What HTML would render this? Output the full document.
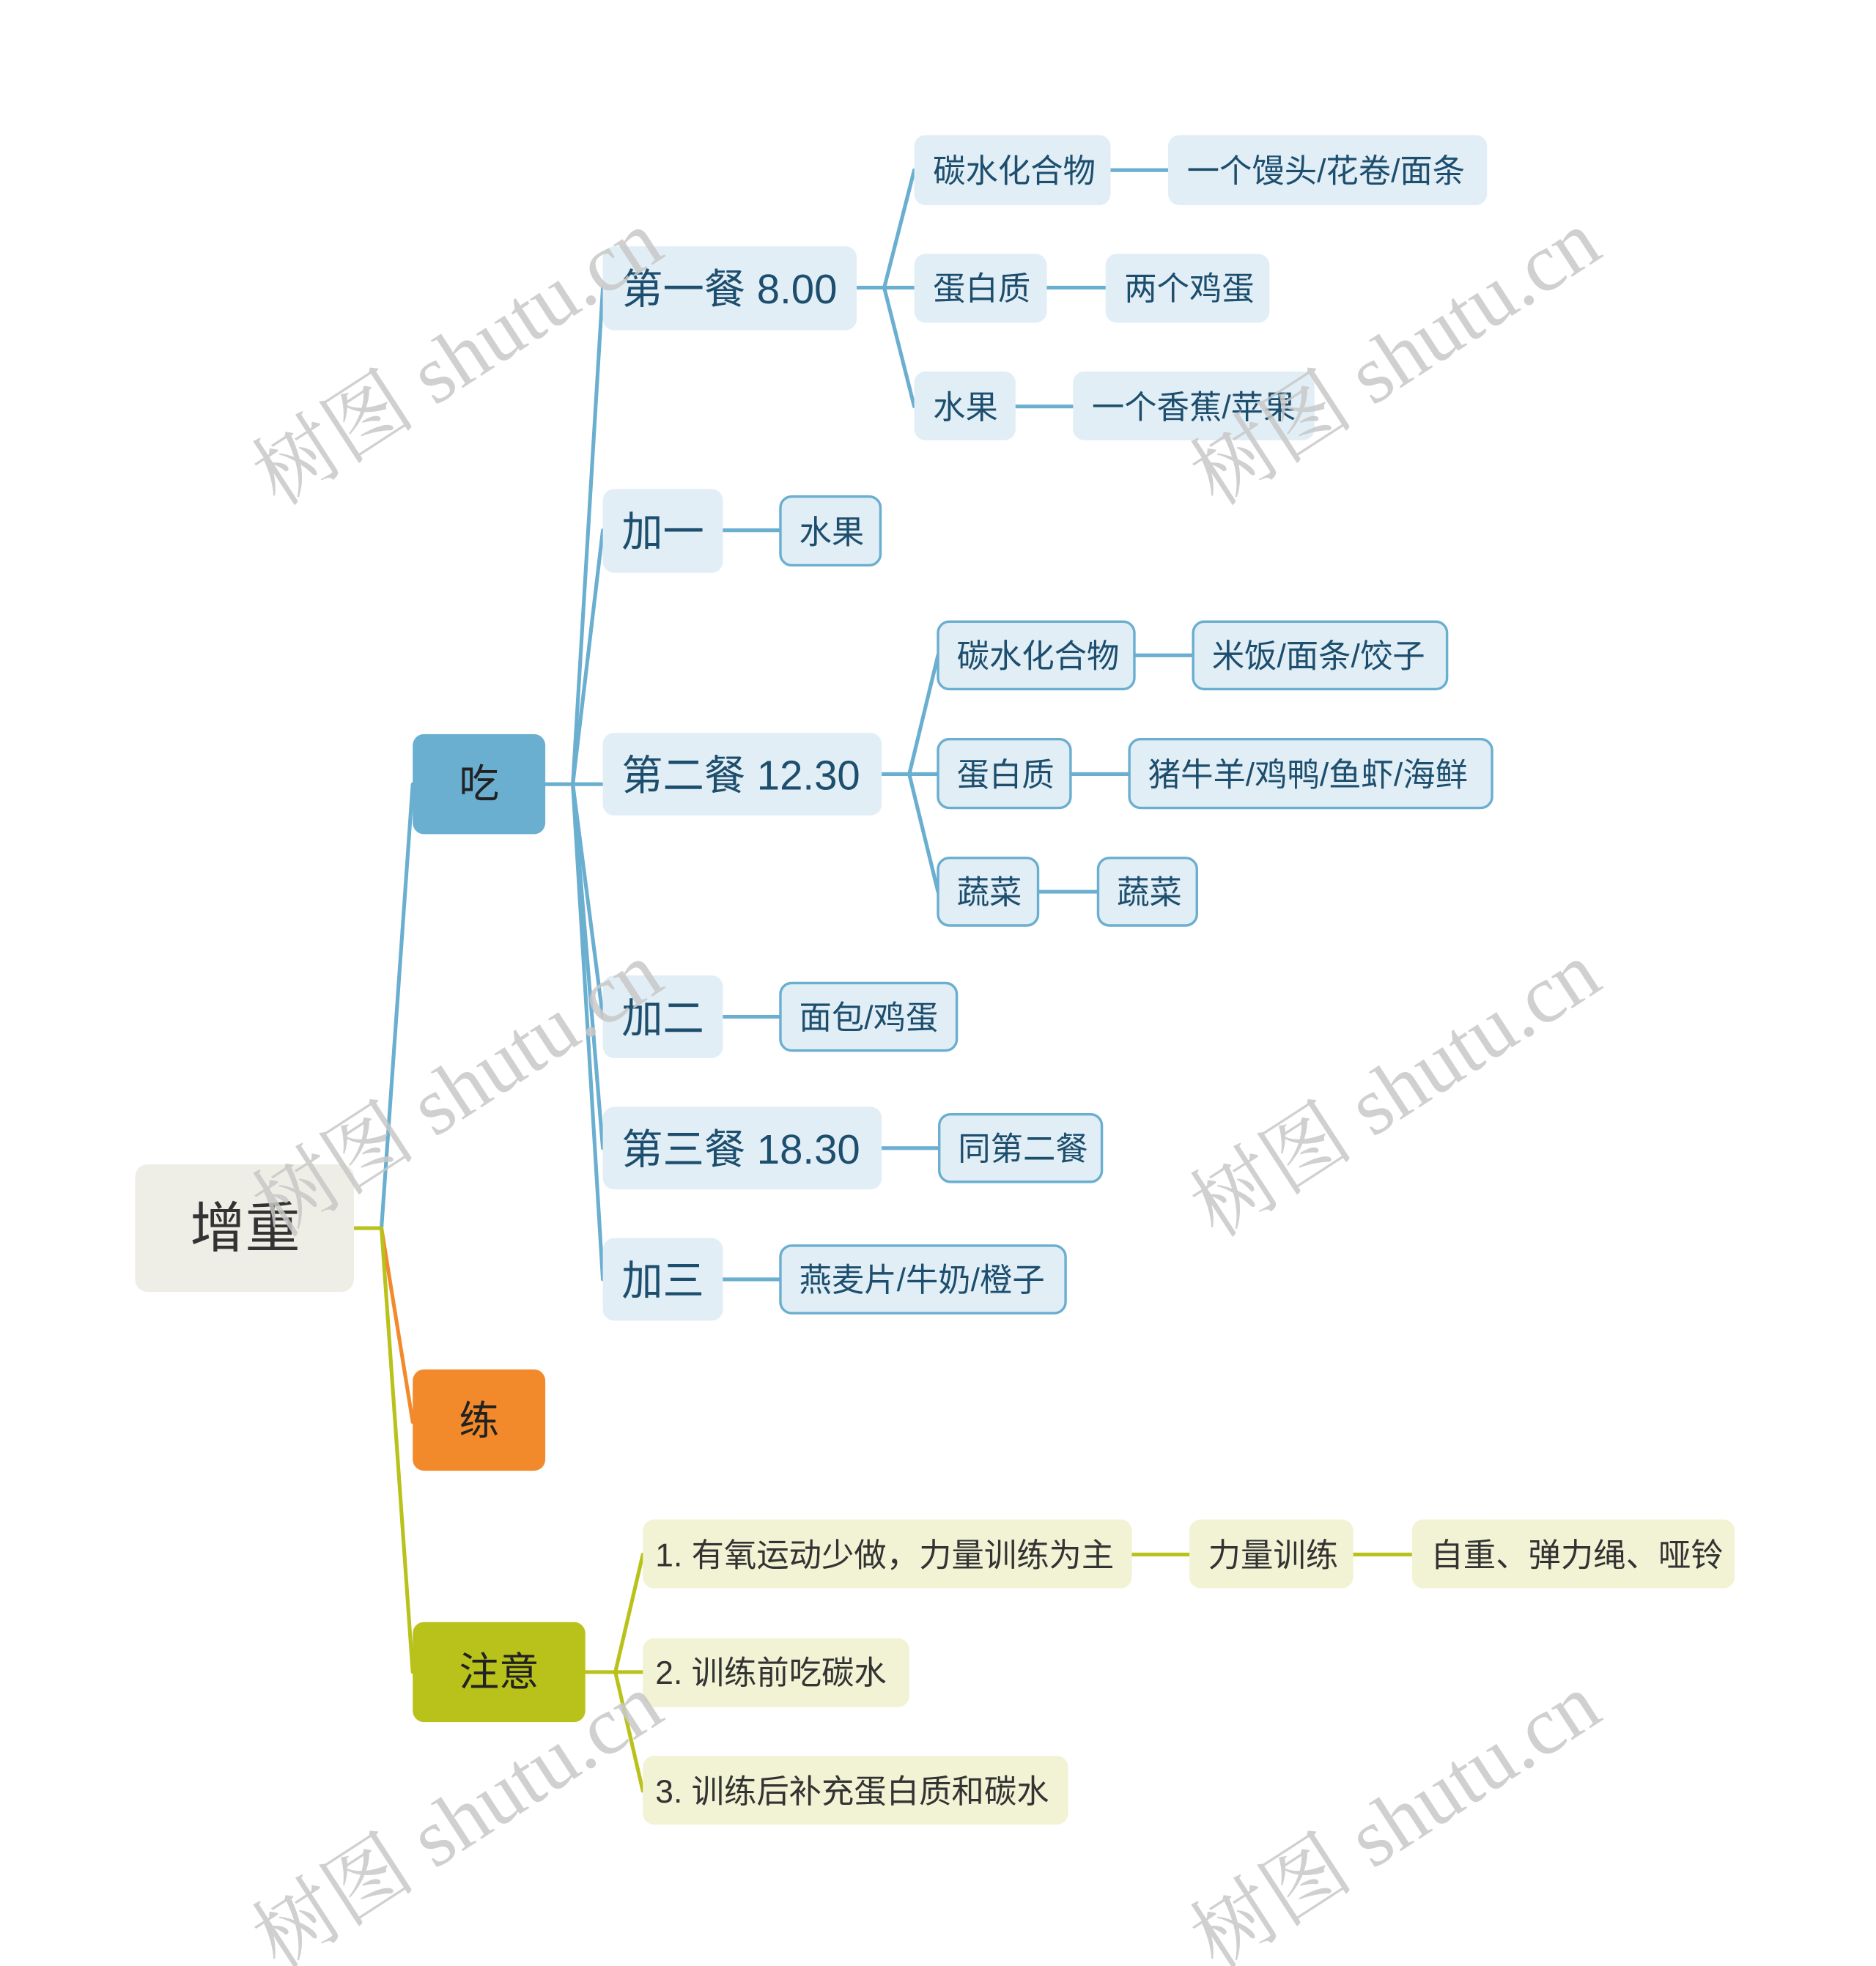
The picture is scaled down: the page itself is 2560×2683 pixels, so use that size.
<!DOCTYPE html>
<html><head><meta charset="utf-8"><style>
html,body{margin:0;padding:0;background:#fff}
svg{display:block}
text{font-family:"Liberation Sans","Noto Sans CJK SC",sans-serif}
.wm text{font-family:"Liberation Serif","Noto Serif CJK SC",serif;font-size:66px;fill:#c8c8c8;opacity:.85}
</style></head><body>
<svg width="2560" height="2683" viewBox="0 0 1500 1572" xmlns="http://www.w3.org/2000/svg">
<g fill="none" stroke-width="3" stroke-linecap="round">
<path d="M283 982 H305" stroke="#b9c21a"/>
<path d="M305 982 L330 627" stroke="#6aaed0"/>
<path d="M305 982 L330 1137" stroke="#f28a2c"/>
<path d="M305 982 L330 1337" stroke="#b9c21a"/>
<g stroke="#6aaed0">
<path d="M436 627 H458"/>
<path d="M458 627 L482 230"/><path d="M458 627 L482 424"/><path d="M458 627 H482"/>
<path d="M458 627 L482 813"/><path d="M458 627 L482 918"/><path d="M458 627 L482 1023"/>
<path d="M685 230 H707"/><path d="M707 230 L731 136"/><path d="M707 230 H731"/><path d="M707 230 L731 325"/>
<path d="M888 136 H934"/><path d="M837 230 H884"/><path d="M812 325 H858"/>
<path d="M578 424 H624"/>
<path d="M705 619 H727"/><path d="M727 619 L750 524"/><path d="M727 619 H750"/><path d="M727 619 L750 713"/>
<path d="M907 524 H954"/><path d="M856 619 H903"/><path d="M830 713 H878"/>
<path d="M578 813 H624"/><path d="M705 918 H751"/><path d="M578 1023 H624"/>
</g>
<g stroke="#b9c21a">
<path d="M468 1337 H492"/><path d="M492 1337 L514 1243"/><path d="M492 1337 H514"/><path d="M492 1337 L514 1432"/>
<path d="M905 1243 H951"/><path d="M1082 1243 H1129"/>
</g>
</g>
<rect x="108" y="931" width="175" height="102" rx="10" fill="#efeee6"/>
<text x="196" y="982" font-size="44" fill="#333" text-anchor="middle" dominant-baseline="central">增重</text>
<rect x="330" y="587" width="106" height="80" rx="9" fill="#6aaed0"/>
<text x="383" y="627" font-size="32" fill="#222" text-anchor="middle" dominant-baseline="central">吃</text>
<rect x="330" y="1095" width="106" height="81" rx="9" fill="#f28a2c"/>
<text x="383" y="1136" font-size="32" fill="#222" text-anchor="middle" dominant-baseline="central">练</text>
<rect x="330" y="1297" width="138" height="80" rx="9" fill="#b9c21a"/>
<text x="399" y="1337" font-size="32" fill="#222" text-anchor="middle" dominant-baseline="central">注意</text>
<g fill="#e1eef6">
<rect x="482" y="197" width="203" height="67" rx="9"/>
<rect x="482" y="391" width="96" height="67" rx="9"/>
<rect x="482" y="586" width="223" height="66" rx="9"/>
<rect x="482" y="780" width="96" height="66" rx="9"/>
<rect x="482" y="885" width="223" height="66" rx="9"/>
<rect x="482" y="990" width="96" height="66" rx="9"/>
<rect x="731" y="108" width="157" height="56" rx="9"/>
<rect x="934" y="108" width="255" height="56" rx="9"/>
<rect x="731" y="203" width="106" height="55" rx="9"/>
<rect x="884" y="203" width="131" height="55" rx="9"/>
<rect x="731" y="297" width="81" height="55" rx="9"/>
<rect x="858" y="297" width="193" height="55" rx="9"/>
</g>
<g fill="#e1eef6" stroke="#6aaed0" stroke-width="2">
<rect x="624" y="397" width="80" height="55" rx="9"/>
<rect x="750" y="497" width="157" height="54" rx="9"/>
<rect x="954" y="497" width="203" height="54" rx="9"/>
<rect x="750" y="591" width="106" height="55" rx="9"/>
<rect x="903" y="591" width="290" height="55" rx="9"/>
<rect x="750" y="686" width="80" height="54" rx="9"/>
<rect x="878" y="686" width="79" height="54" rx="9"/>
<rect x="624" y="786" width="141" height="54" rx="9"/>
<rect x="751" y="891" width="130" height="54" rx="9"/>
<rect x="624" y="996" width="228" height="54" rx="9"/>
</g>
<g fill="#f2f2d4">
<rect x="514" y="1215" width="391" height="55" rx="9"/>
<rect x="951" y="1215" width="131" height="55" rx="9"/>
<rect x="1129" y="1215" width="258" height="55" rx="9"/>
<rect x="514" y="1310" width="213" height="55" rx="9"/>
<rect x="514" y="1404" width="340" height="55" rx="9"/>
</g>
<g fill="#1d4e6e" dominant-baseline="central" font-size="33">
<text x="497" y="231">第一餐 8.00</text>
<text x="497" y="425">加一</text>
<text x="497" y="620">第二餐 12.30</text>
<text x="497" y="814">加二</text>
<text x="497" y="919">第三餐 18.30</text>
<text x="497" y="1024">加三</text>
</g>
<g fill="#1d4e6e" dominant-baseline="central" font-size="26">
<text x="746" y="137">碳水化合物</text>
<text x="949" y="137">一个馒头/花卷/面条</text>
<text x="746" y="231">蛋白质</text>
<text x="899" y="231">两个鸡蛋</text>
<text x="746" y="326">水果</text>
<text x="873" y="326">一个香蕉/苹果</text>
<text x="639" y="426">水果</text>
<text x="765" y="525">碳水化合物</text>
<text x="969" y="525">米饭/面条/饺子</text>
<text x="765" y="620">蛋白质</text>
<text x="918" y="620">猪牛羊/鸡鸭/鱼虾/海鲜</text>
<text x="765" y="714">蔬菜</text>
<text x="893" y="714">蔬菜</text>
<text x="639" y="814">面包/鸡蛋</text>
<text x="766" y="919">同第二餐</text>
<text x="639" y="1024">燕麦片/牛奶/橙子</text>
</g>
<g fill="#333" dominant-baseline="central" font-size="26">
<text x="524" y="1244">1.  有氧运动少做，力量训练为主</text>
<text x="966" y="1244">力量训练</text>
<text x="1144" y="1244">自重、弹力绳、哑铃</text>
<text x="524" y="1338">2.  训练前吃碳水</text>
<text x="524" y="1433">3.  训练后补充蛋白质和碳水</text>
</g>
<g class="wm" text-anchor="middle">
<text transform="translate(378,305) rotate(-33)">树图 shutu.cn</text>
<text transform="translate(1128,305) rotate(-33)">树图 shutu.cn</text>
<text transform="translate(378,890) rotate(-33)">树图 shutu.cn</text>
<text transform="translate(1128,890) rotate(-33)">树图 shutu.cn</text>
<text transform="translate(378,1475) rotate(-33)">树图 shutu.cn</text>
<text transform="translate(1128,1475) rotate(-33)">树图 shutu.cn</text>
</g>
</svg>
</body></html>
